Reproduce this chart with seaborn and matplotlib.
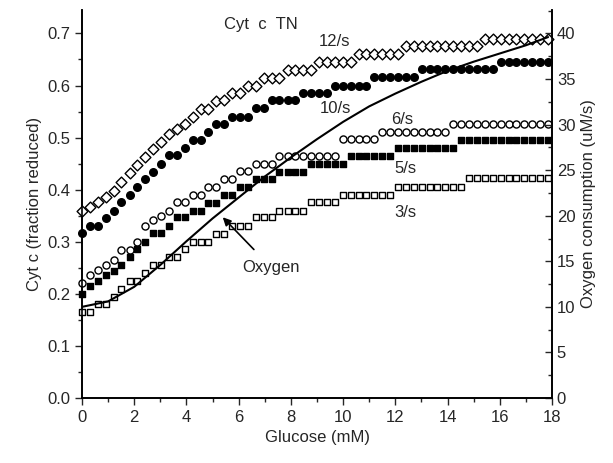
import matplotlib
matplotlib.use("Agg")
import matplotlib.pyplot as plt
from matplotlib.ticker import MultipleLocator
import seaborn as sns

# glucose positions shared by the marker series (mM)
glucose = [0.00, 0.30, 0.61, 0.91, 1.21, 1.51, 1.82, 2.12, 2.42, 2.72,
           3.03, 3.33, 3.63, 3.93, 4.24, 4.54, 4.84, 5.14, 5.45, 5.75,
           6.05, 6.35, 6.66, 6.96, 7.26, 7.56, 7.87, 8.17, 8.47, 8.77,
           9.08, 9.38, 9.68, 9.98, 10.29, 10.59, 10.89, 11.19, 11.50, 11.80,
           12.10, 12.40, 12.71, 13.01, 13.31, 13.61, 13.92, 14.22, 14.52, 14.82,
           15.13, 15.43, 15.73, 16.03, 16.34, 16.64, 16.94, 17.24, 17.55, 17.85]

# Cyt c fraction reduced
rate_12 = [0.360, 0.367, 0.376, 0.385, 0.398, 0.415, 0.432, 0.448, 0.463, 0.478,
           0.492, 0.506, 0.516, 0.526, 0.539, 0.554, 0.554, 0.570, 0.572, 0.585,
           0.585, 0.600, 0.600, 0.614, 0.614, 0.614, 0.630, 0.630, 0.630, 0.630,
           0.645, 0.645, 0.645, 0.645, 0.645, 0.660, 0.660, 0.660, 0.660, 0.660,
           0.660, 0.675, 0.675, 0.675, 0.675, 0.675, 0.675, 0.675, 0.675, 0.675,
           0.675, 0.690, 0.690, 0.690, 0.690, 0.690, 0.690, 0.690, 0.690, 0.690]
rate_10 = [0.316, 0.330, 0.330, 0.345, 0.360, 0.376, 0.390, 0.405, 0.420, 0.434,
           0.450, 0.466, 0.466, 0.480, 0.495, 0.495, 0.510, 0.526, 0.526, 0.540,
           0.540, 0.540, 0.556, 0.556, 0.572, 0.572, 0.572, 0.572, 0.585, 0.585,
           0.585, 0.585, 0.600, 0.600, 0.600, 0.600, 0.600, 0.616, 0.616, 0.616,
           0.616, 0.616, 0.616, 0.631, 0.631, 0.631, 0.631, 0.631, 0.631, 0.631,
           0.631, 0.631, 0.631, 0.646, 0.646, 0.646, 0.646, 0.646, 0.646, 0.646]
rate_6 = [0.220, 0.236, 0.246, 0.255, 0.265, 0.284, 0.284, 0.300, 0.330, 0.342,
          0.350, 0.360, 0.376, 0.376, 0.390, 0.390, 0.405, 0.405, 0.420, 0.420,
          0.435, 0.435, 0.450, 0.450, 0.450, 0.464, 0.464, 0.464, 0.464, 0.464,
          0.464, 0.464, 0.464, 0.497, 0.497, 0.497, 0.497, 0.497, 0.510, 0.510,
          0.510, 0.510, 0.510, 0.510, 0.510, 0.510, 0.510, 0.526, 0.526, 0.526,
          0.526, 0.526, 0.526, 0.526, 0.526, 0.526, 0.526, 0.526, 0.526, 0.526]
rate_5 = [0.200, 0.215, 0.224, 0.236, 0.244, 0.255, 0.270, 0.286, 0.300, 0.316,
          0.316, 0.330, 0.347, 0.347, 0.360, 0.360, 0.374, 0.374, 0.390, 0.390,
          0.405, 0.405, 0.420, 0.420, 0.420, 0.434, 0.434, 0.434, 0.434, 0.450,
          0.450, 0.450, 0.450, 0.450, 0.464, 0.464, 0.464, 0.464, 0.464, 0.464,
          0.480, 0.480, 0.480, 0.480, 0.480, 0.480, 0.480, 0.480, 0.495, 0.495,
          0.495, 0.495, 0.495, 0.495, 0.495, 0.495, 0.495, 0.495, 0.495, 0.495]
rate_3 = [0.165, 0.165, 0.180, 0.180, 0.194, 0.210, 0.224, 0.224, 0.240, 0.255,
          0.255, 0.270, 0.270, 0.286, 0.300, 0.300, 0.300, 0.315, 0.315, 0.330,
          0.330, 0.330, 0.347, 0.347, 0.347, 0.360, 0.360, 0.360, 0.360, 0.376,
          0.376, 0.376, 0.376, 0.390, 0.390, 0.390, 0.390, 0.390, 0.390, 0.390,
          0.405, 0.405, 0.405, 0.405, 0.405, 0.405, 0.405, 0.405, 0.405, 0.422,
          0.422, 0.422, 0.422, 0.422, 0.422, 0.422, 0.422, 0.422, 0.422, 0.422]

# oxygen consumption curve (right axis)
oxy_glucose = [0, 1, 2, 3, 4, 5, 6, 7, 8, 9, 10, 11, 12, 13, 14, 15, 16, 17, 17.85]
oxy_rate = [10.0, 10.6, 12.2, 14.6, 17.2, 19.7, 22.0, 24.3, 26.4, 28.4,
            30.3, 32.0, 33.4, 34.7, 35.9, 36.9, 37.8, 38.7, 39.6]

sns.set_style("ticks")
plt.rcParams['font.family'] = ['Liberation Sans', 'DejaVu Sans']
plt.rcParams['font.size'] = 12

fig = plt.figure(figsize=(6.13, 4.63), dpi=100)
ax = fig.add_axes([0.1338, 0.1404, 0.7667, 0.838])

series = [
    (rate_12, 'D', 'white', 30),
    (rate_10, 'o', 'black', 30),
    (rate_6, 'o', 'white', 26),
    (rate_5, 's', 'black', 22),
    (rate_3, 's', 'white', 20),
]
for vals, mk, fc, size in series:
    sns.scatterplot(x=glucose, y=vals, ax=ax, marker=mk, s=size,
                    color=fc, edgecolor='black', linewidth=1.0,
                    clip_on=False, zorder=3)

ax.set_xlim(0, 18)
ax.set_ylim(0, 0.745)
ax.xaxis.set_major_locator(MultipleLocator(2))
ax.xaxis.set_minor_locator(MultipleLocator(1))
ax.yaxis.set_major_locator(MultipleLocator(0.1))
ax.yaxis.set_minor_locator(MultipleLocator(0.05))
ax.tick_params(which='major', direction='out', length=5, width=1, labelsize=12)
ax.tick_params(which='minor', direction='out', length=3, width=1)
ax.set_xlabel('Glucose (mM)', fontsize=12)
ax.set_ylabel('Cyt c (fraction reduced)', fontsize=12)

ax2 = ax.twinx()
sns.lineplot(x=oxy_glucose, y=oxy_rate, ax=ax2, color='black', linewidth=1.5)
ax2.set_ylim(0, 0.745 * 40 / 0.7)
ax2.yaxis.set_major_locator(MultipleLocator(5))
ax2.yaxis.set_minor_locator(MultipleLocator(2.5))
ax2.tick_params(which='major', direction='in', length=5, width=1, labelsize=12)
ax2.tick_params(which='minor', direction='in', length=3, width=1)
ax2.set_ylabel('Oxygen consumption (uM/s)', fontsize=12)

for a in (ax, ax2):
    a.spines['top'].set_visible(False)
    for s in ('left', 'right', 'bottom'):
        a.spines[s].set_linewidth(1.2)
        a.spines[s].set_color('black')

# series labels
ax.text(6.86, 0.718, 'Cyt  c  TN', ha='center', va='center', fontsize=12)
ax.text(9.66, 0.685, '12/s', ha='center', va='center', fontsize=12)
ax.text(9.69, 0.555, '10/s', ha='center', va='center', fontsize=12)
ax.text(12.26, 0.535, '6/s', ha='center', va='center', fontsize=12)
ax.text(12.38, 0.44, '5/s', ha='center', va='center', fontsize=12)
ax.text(12.38, 0.357, '3/s', ha='center', va='center', fontsize=12)
ax.annotate('Oxygen', xy=(5.39, 0.347), xytext=(7.24, 0.251),
            ha='center', va='center', fontsize=12,
            arrowprops=dict(arrowstyle='-|>', color='black', lw=1.2,
                            shrinkA=7, shrinkB=0, mutation_scale=12))

fig.savefig('out.png', dpi=100)
